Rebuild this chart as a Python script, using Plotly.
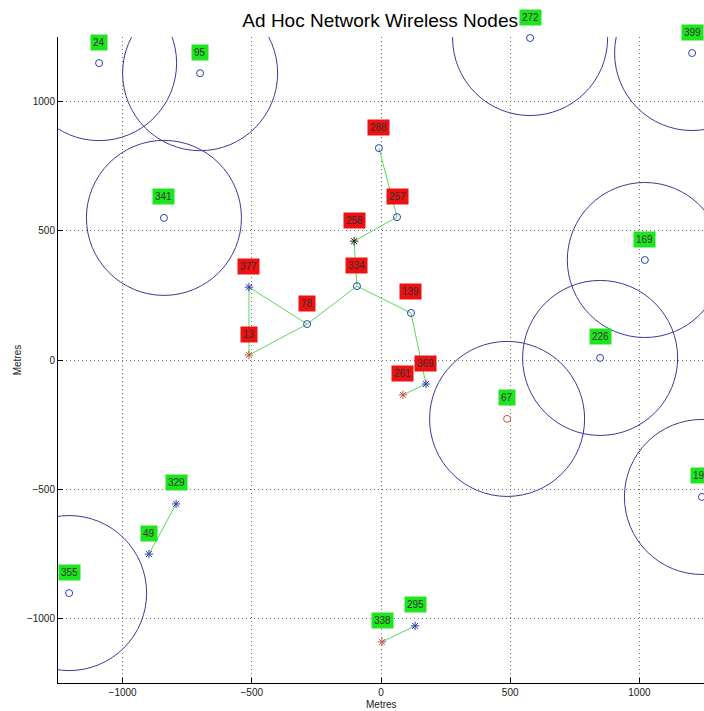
import plotly.graph_objects as go

# ---- data ----
node_ids = ["24", "95", "341", "272", "399", "288", "257", "258", "334", "377",
            "78", "13", "139", "369", "261", "67", "226", "169", "196", "355",
            "49", "329", "338", "295"]
node_x = [-1091, -700, -840, 577, 1204, -8, 62, -104, -93, -511,
          -286, -511, 116, 174, 85, 488, 848, 1021, 1242, -1207,
          -898, -793, 4, 132]
node_y = [1149, 1110, 550, 1246, 1188, 820, 553, 460, 286, 282,
          139, 19, 182, -93, -135, -228, 8, 387, -530, -902,
          -751, -557, -1091, -1029]
node_shape = ["o", "o", "o", "o", "o", "o", "o", "*", "o", "*",
              "o", "*", "o", "*", "*", "o", "o", "o", "o", "o",
              "*", "*", "*", "*"]
node_color = ["b", "b", "b", "b", "b", "b", "b", "k", "b", "b",
              "b", "r", "b", "b", "r", "r", "b", "b", "b", "b",
              "b", "b", "r", "b"]
node_label_bg = ["g", "g", "g", "g", "g", "r", "r", "r", "r", "r",
                 "r", "r", "r", "r", "r", "g", "g", "g", "g", "g",
                 "g", "g", "g", "g"]
range_nodes = ["24", "95", "341", "272", "399", "67", "226", "169", "196", "355"]
range_radius = 300

edges = [("288", "257"), ("257", "258"), ("258", "334"), ("334", "78"),
         ("78", "13"), ("13", "377"), ("377", "78"), ("334", "139"),
         ("139", "369"), ("369", "261"), ("49", "329"), ("338", "295")]

x_ticks = [-1000, -500, 0, 500, 1000]
y_ticks = [-1000, -500, 0, 500, 1000]
axis_range = [-1250, 1250]

# ---- styles ----
color_map = {"b": "#2d3fae", "r": "#c8504a", "k": "#202020"}
bg_map = {"g": "#1ee61e", "r": "#ee1111"}
circle_color = "#3a3a96"
edge_color = "#5ad85a"

pos = {n: (x, y) for n, x, y in zip(node_ids, node_x, node_y)}

fig = go.Figure()

# edges
for a, b in edges:
    fig.add_trace(go.Scatter(x=[pos[a][0], pos[b][0]], y=[pos[a][1], pos[b][1]],
                             mode="lines", line=dict(color=edge_color, width=1),
                             hoverinfo="skip", showlegend=False))

# range circles
for n in range_nodes:
    cx, cy = pos[n]
    fig.add_shape(type="circle", xref="x", yref="y",
                  x0=cx - range_radius, x1=cx + range_radius,
                  y0=cy - range_radius, y1=cy + range_radius,
                  line=dict(color=circle_color, width=1), layer="above")

# markers
for i, n in enumerate(node_ids):
    sym = "circle-open" if node_shape[i] == "o" else "asterisk-open"
    size = 7 if node_shape[i] == "o" else 7
    fig.add_trace(go.Scatter(x=[node_x[i]], y=[node_y[i]], mode="markers",
                             marker=dict(symbol=sym, size=size,
                                         color=color_map[node_color[i]],
                                         line=dict(color=color_map[node_color[i]], width=1)),
                             showlegend=False, cliponaxis=False))
    fig.add_annotation(x=node_x[i], y=node_y[i], xref="x", yref="y", text=n,
                       showarrow=False, yshift=21,
                       font=dict(family="Liberation Sans", size=10, color="#303030"),
                       bgcolor=bg_map[node_label_bg[i]], borderpad=2)

# axis titles
fig.add_annotation(x=0.5, y=-0.0335, xref="paper", yref="paper", text="Metres",
                   showarrow=False, yanchor="middle",
                   font=dict(family="Liberation Sans", size=10, color="#202020"))
fig.add_annotation(x=-0.063, y=0.5, xref="paper", yref="paper", text="Metres",
                   showarrow=False, textangle=-90, xanchor="center",
                   font=dict(family="Liberation Sans", size=10, color="#202020"))

axis_common = dict(range=axis_range, showgrid=True, gridcolor="#707070",
                   griddash="1px,3px", gridwidth=1, zeroline=False,
                   showline=True, linecolor="black", linewidth=1,
                   ticks="inside", ticklen=5, tickcolor="black",
                   tickfont=dict(family="Liberation Sans", size=10, color="#202020"),
                   automargin=False)

fig.update_layout(
    width=704, height=711,
    margin=dict(l=58, r=0, t=37, b=28),
    paper_bgcolor="white", plot_bgcolor="white",
    title=dict(text="Ad Hoc Network Wireless Nodes", x=0.54, xanchor="center",
               y=1 - 20 / 711, yanchor="middle",
               font=dict(family="Liberation Sans", size=19, color="black")),
    xaxis=dict(tickvals=x_ticks, **axis_common),
    yaxis=dict(tickvals=y_ticks, **axis_common),
)

fig.write_html("out.html", config={"displayModeBar": False},
               post_script="document.body.style.margin='0';document.body.style.overflow='hidden';")
